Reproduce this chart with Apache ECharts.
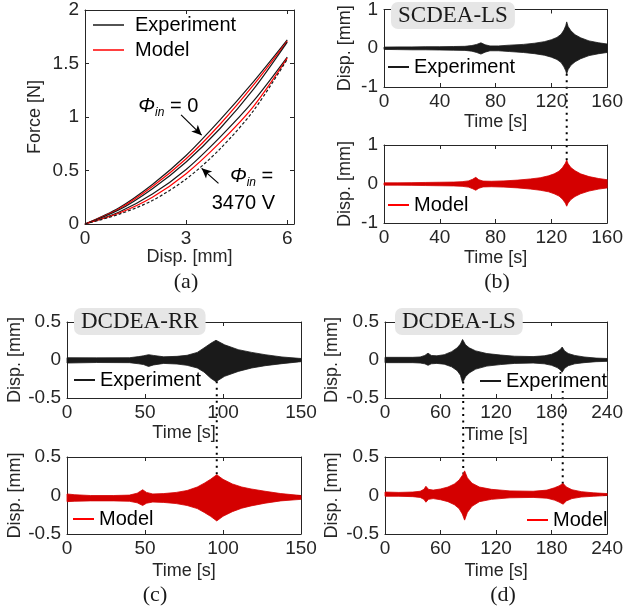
<!DOCTYPE html>
<html>
<head>
<meta charset="utf-8">
<title>DEA force / displacement</title>
<script src="https://cdn.jsdelivr.net/npm/echarts@6.0.0/dist/echarts.min.js"></script>
<style>
html,body{margin:0;padding:0;background:#fff;}
#chart{width:626px;height:615px;}
</style>
</head>
<body>
<div id="chart"></div>
<script>
// (a) force vs displacement
var dispA = [0, 1, 2, 3, 4, 5, 6];
var exp0Load      = [0, 0.15, 0.37, 0.64, 0.97, 1.33, 1.72];
var mod0          = [0, 0.14, 0.35, 0.61, 0.93, 1.30, 1.71];
var exp0Unload    = [0, 0.13, 0.33, 0.58, 0.89, 1.26, 1.70];
var exp3470Load   = [0, 0.11, 0.28, 0.51, 0.81, 1.15, 1.56];
var mod3470       = [0, 0.10, 0.25, 0.47, 0.76, 1.10, 1.55];
var exp3470Unload = [0, 0.09, 0.22, 0.42, 0.70, 1.06, 1.54];
var dispTicks  = [0, 3, 6];
var forceTicks = [0, 0.5, 1, 1.5, 2];

// (b) SCDEA-LS, envelopes of the oscillating displacement
var bExpTime  = [0, 10, 20, 30, 40, 50, 58, 63, 66.5, 69.5, 72.5, 76, 82, 90, 100, 108, 115, 120, 124, 127, 129, 130.3, 131, 132, 134, 137, 141, 147, 154, 160];
var bExpUpper = [0.03, 0.035, 0.035, 0.04, 0.04, 0.045, 0.05, 0.07, 0.10, 0.14, 0.09, 0.06, 0.06, 0.08, 0.10, 0.13, 0.17, 0.22, 0.28, 0.36, 0.47, 0.58, 0.68, 0.56, 0.45, 0.35, 0.27, 0.19, 0.14, 0.11];
var bExpLower = [-0.03, -0.035, -0.04, -0.04, -0.045, -0.05, -0.055, -0.075, -0.11, -0.15, -0.10, -0.065, -0.065, -0.085, -0.11, -0.14, -0.18, -0.23, -0.29, -0.37, -0.48, -0.58, -0.66, -0.55, -0.44, -0.35, -0.27, -0.19, -0.14, -0.11];
var bModTime  = [0, 10, 20, 30, 40, 50, 56, 60.5, 63.5, 65.8, 68, 71, 77, 86, 96, 105, 112, 118, 122, 125.5, 128, 130, 131, 132, 134, 137, 141, 147, 154, 160];
var bModUpper = [0.03, 0.03, 0.035, 0.04, 0.045, 0.05, 0.06, 0.08, 0.12, 0.17, 0.11, 0.075, 0.07, 0.08, 0.10, 0.13, 0.16, 0.21, 0.26, 0.33, 0.42, 0.53, 0.61, 0.52, 0.42, 0.34, 0.26, 0.19, 0.14, 0.11];
var bModLower = [-0.03, -0.03, -0.035, -0.04, -0.045, -0.05, -0.06, -0.08, -0.12, -0.16, -0.11, -0.075, -0.07, -0.08, -0.10, -0.13, -0.16, -0.20, -0.25, -0.31, -0.39, -0.49, -0.57, -0.49, -0.40, -0.32, -0.25, -0.18, -0.13, -0.10];
var bTimeTicks = [0, 40, 80, 120, 160];
var bDispTicks = [-1, 0, 1];
var bLinks = [131];

// (c) DCDEA-RR
var cExpTime  = [0, 19, 40, 46, 49, 52.3, 55.5, 62, 70.5, 77, 83.5, 87.8, 92.2, 95.5, 101, 109.8, 118.4, 127, 137.8, 148.5, 150];
var cExpUpper = [0.03, 0.028, 0.03, 0.045, 0.055, 0.07, 0.06, 0.042, 0.048, 0.062, 0.10, 0.158, 0.22, 0.26, 0.20, 0.136, 0.10, 0.07, 0.04, 0.022, 0.02];
var cExpLower = [-0.04, -0.033, -0.035, -0.05, -0.06, -0.085, -0.065, -0.045, -0.053, -0.07, -0.105, -0.158, -0.24, -0.285, -0.215, -0.15, -0.105, -0.075, -0.048, -0.025, -0.022];
var cModTime  = [0, 5, 15, 30, 40, 45, 48.5, 51, 55, 62, 70, 77, 83.5, 88, 92, 96, 100, 106, 112, 118, 127, 137, 150];
var cModUpper = [0.02, 0.01, 0.0, 0.0, 0.005, 0.03, 0.075, 0.04, 0.02, 0.025, 0.04, 0.065, 0.11, 0.16, 0.21, 0.27, 0.21, 0.15, 0.11, 0.085, 0.055, 0.025, 0.0];
var cModLower = [-0.08, -0.075, -0.07, -0.07, -0.075, -0.095, -0.13, -0.10, -0.085, -0.09, -0.105, -0.13, -0.17, -0.22, -0.27, -0.33, -0.27, -0.21, -0.165, -0.135, -0.10, -0.07, -0.05];
var cTimeTicks = [0, 50, 100, 150];
var cLinks = [96];

// (d) DCDEA-LS
var dExpTime  = [0, 15, 30, 38, 43, 46.5, 50, 56, 64, 72, 78, 81.5, 83.8, 87, 91, 98, 110, 125, 140, 160, 172, 180, 186, 189.5, 191.4, 194, 198, 205, 215, 228, 240];
var dExpUpper = [0.035, 0.035, 0.035, 0.04, 0.06, 0.09, 0.06, 0.055, 0.07, 0.11, 0.16, 0.21, 0.27, 0.20, 0.16, 0.12, 0.085, 0.065, 0.05, 0.045, 0.055, 0.075, 0.11, 0.14, 0.17, 0.12, 0.085, 0.06, 0.04, 0.025, 0.02];
var dExpLower = [-0.035, -0.035, -0.035, -0.04, -0.05, -0.07, -0.05, -0.045, -0.055, -0.09, -0.14, -0.20, -0.30, -0.22, -0.17, -0.12, -0.08, -0.06, -0.045, -0.04, -0.05, -0.07, -0.10, -0.13, -0.16, -0.11, -0.075, -0.05, -0.035, -0.022, -0.018];
var dModTime  = [0, 15, 30, 38, 42, 44.2, 47, 52, 60, 68, 75, 80, 83.5, 86, 89, 94, 102, 115, 135, 160, 175, 183, 188, 192.4, 196, 202, 212, 225, 240];
var dModUpper = [0.045, 0.04, 0.045, 0.055, 0.08, 0.12, 0.08, 0.07, 0.085, 0.11, 0.15, 0.20, 0.26, 0.32, 0.23, 0.16, 0.11, 0.08, 0.06, 0.055, 0.07, 0.10, 0.125, 0.157, 0.11, 0.075, 0.05, 0.035, 0.025];
var dModLower = [-0.01, -0.01, -0.015, -0.025, -0.05, -0.087, -0.05, -0.04, -0.055, -0.08, -0.12, -0.17, -0.24, -0.32, -0.22, -0.14, -0.08, -0.05, -0.03, -0.025, -0.035, -0.06, -0.085, -0.113, -0.07, -0.04, -0.02, -0.01, 0.0];
var dTimeTicks = [0, 60, 120, 180, 240];
var halfTicks  = [-0.5, 0, 0.5];
var dLinks = [84.5, 192];

var AX = '#262626';
var FONT = 'Liberation Sans, Arial, sans-serif';
var BLACK = '#1a1a1a', RED_LINE = '#ff0000', RED_FILL = '#d40000';

var grids = [
    {left: 85,  top: 10,  width: 209, height: 214},
    {left: 384, top: 9,   width: 233, height: 78},
    {left: 384, top: 145, width: 233, height: 78},
    {left: 67,  top: 322, width: 234, height: 76},
    {left: 67,  top: 457, width: 234, height: 77},
    {left: 385, top: 322, width: 233, height: 76},
    {left: 385, top: 457, width: 233, height: 77}
];
var axisDefs = [
    {x: [0, 6.2, dispTicks],  y: [0, 2, forceTicks],   xName: 'Disp. [mm]', yName: 'Force [N]',  xGap: 24, yGap: 41},
    {x: [0, 160, bTimeTicks], y: [-1, 1, bDispTicks],  xName: 'Time [s]',   yName: 'Disp. [mm]', xGap: 26, yGap: 30},
    {x: [0, 160, bTimeTicks], y: [-1, 1, bDispTicks],  xName: 'Time [s]',   yName: 'Disp. [mm]', xGap: 26, yGap: 30},
    {x: [0, 150, cTimeTicks], y: [-0.5, 0.5, halfTicks], xName: 'Time [s]', yName: 'Disp. [mm]', xGap: 26, yGap: 43},
    {x: [0, 150, cTimeTicks], y: [-0.5, 0.5, halfTicks], xName: 'Time [s]', yName: 'Disp. [mm]', xGap: 28, yGap: 43},
    {x: [0, 240, dTimeTicks], y: [-0.5, 0.5, halfTicks], xName: 'Time [s]', yName: 'Disp. [mm]', xGap: 28, yGap: 44},
    {x: [0, 240, dTimeTicks], y: [-0.5, 0.5, halfTicks], xName: 'Time [s]', yName: 'Disp. [mm]', xGap: 28, yGap: 44}
];

function makeAxis(dim, g, d, mirror){
    var r = d[dim];
    var isX = dim === 'x';
    return {
        type: 'value', gridIndex: g,
        position: isX ? (mirror ? 'top' : 'bottom') : (mirror ? 'right' : 'left'),
        min: r[0], max: r[1],
        axisLine: {show: true, onZero: false, lineStyle: {color: AX, width: 1}},
        axisTick: {show: true, inside: true, length: 4, customValues: r[2], lineStyle: {color: AX, width: 1}},
        axisLabel: {show: !mirror, customValues: r[2], margin: isX ? 5 : 6, color: AX, fontSize: 19, fontFamily: FONT},
        splitLine: {show: false},
        name: mirror ? '' : (isX ? d.xName : d.yName),
        nameLocation: 'middle',
        nameGap: isX ? d.xGap : d.yGap,
        nameMoveOverlap: false,
        nameTextStyle: {color: AX, fontSize: 18, fontFamily: FONT}
    };
}

var xAxes = [], yAxes = [];
axisDefs.forEach(function(d, g){
    xAxes.push(makeAxis('x', g, d, false), makeAxis('x', g, d, true));
    yAxes.push(makeAxis('y', g, d, false), makeAxis('y', g, d, true));
});

function pairs(xs, ys){
    return xs.map(function(x, i){ return [x, ys[i]]; });
}

function curve(name, ys, color, dashed){
    return {
        type: 'line', name: name, xAxisIndex: 0, yAxisIndex: 0,
        data: pairs(dispA, ys), smooth: 0.3, symbol: 'none',
        itemStyle: {color: color},
        lineStyle: {color: color, width: 1.2, type: dashed ? [3, 2] : 'solid'}
    };
}

// filled band between lower and upper envelope
function band(name, g, ts, up, lo, color){
    return {
        type: 'custom', name: name, coordinateSystem: 'cartesian2d',
        xAxisIndex: 2 * g, yAxisIndex: 2 * g, silent: true,
        itemStyle: {color: color},
        data: [[ts[0], 0]],
        renderItem: function(params, api){
            var pts = [];
            for (var i = 0; i < ts.length; i++) pts.push(api.coord([ts[i], up[i]]));
            for (var j = ts.length - 1; j >= 0; j--) pts.push(api.coord([ts[j], lo[j]]));
            return {type: 'polygon', shape: {points: pts}, style: {fill: color, stroke: color, lineWidth: 0.8}};
        }
    };
}

var series = [
    curve('Experiment', exp0Load, BLACK),
    curve('Model', mod0, RED_LINE),
    curve('Experiment', exp0Unload, BLACK),
    curve('Experiment', exp3470Load, BLACK),
    curve('Model', mod3470, RED_LINE),
    curve('Experiment', exp3470Unload, BLACK, true),
    band('Experiment', 1, bExpTime, bExpUpper, bExpLower, BLACK),
    band('Model', 2, bModTime, bModUpper, bModLower, RED_FILL),
    band('Experiment', 3, cExpTime, cExpUpper, cExpLower, BLACK),
    band('Model', 4, cModTime, cModUpper, cModLower, RED_FILL),
    band('Experiment', 5, dExpTime, dExpUpper, dExpLower, BLACK),
    band('Model', 6, dModTime, dModUpper, dModLower, RED_FILL)
];

// arrows pointing at the loops in (a)
series[0].markLine = {
    silent: true, animation: false,
    symbol: ['none', 'arrow'], symbolSize: [7, 10],
    lineStyle: {color: '#000', width: 1.2, type: 'solid'},
    label: {show: false},
    data: [
        [{coord: [2.85, 1.02]}, {coord: [3.46, 0.83]}],
        [{coord: [3.96, 0.38]}, {coord: [3.46, 0.52]}]
    ]
};

function legendAt(names, left, top, extra){
    var l = {
        data: names, left: left, top: top, padding: 0,
        icon: 'rect', itemWidth: 21, itemHeight: 2,
        selectedMode: false,
        textStyle: {fontSize: 20, color: '#000', fontFamily: FONT}
    };
    for (var k in extra) l[k] = extra[k];
    return l;
}

function boxTitle(text, left, top){
    return {
        text: text, left: left, top: top,
        backgroundColor: '#e6e6e6', borderRadius: 7, padding: [2, 7, 2, 7],
        textStyle: {fontFamily: 'Liberation Serif, Times New Roman, serif', fontSize: 23, fontWeight: 'normal', color: '#1a1a1a'}
    };
}

var option = {
    animation: false,
    backgroundColor: '#fff',
    textStyle: {fontFamily: FONT},
    title: [boxTitle('SCDEA-LS', 391, 2), boxTitle('DCDEA-RR', 74, 308), boxTitle('DCDEA-LS', 395, 308)],
    legend: [
        legendAt(['Experiment', 'Model'], 93, 15, {orient: 'vertical', itemWidth: 31, itemHeight: 1.5, itemGap: 5,
            textStyle: {fontSize: 20, color: '#000', fontFamily: FONT, padding: [0, 0, 0, 6]}}),
        legendAt(['Experiment'], 388, 57),
        legendAt(['Model'], 388, 195),
        legendAt(['Experiment'], 74, 370),
        legendAt(['Model'], 73, 509),
        legendAt(['Experiment'], 480, 371, {backgroundColor: '#fff', z: 1}),
        legendAt(['Model'], 527, 510)
    ],
    grid: grids,
    xAxis: xAxes,
    yAxis: yAxes,
    series: series
};

var chart = echarts.init(document.getElementById('chart'));
chart.setOption(option);

function envAt(t, ts, vs){
    for (var i = 1; i < ts.length; i++) {
        if (t <= ts[i]) {
            var f = (t - ts[i - 1]) / (ts[i] - ts[i - 1]);
            return vs[i - 1] + f * (vs[i] - vs[i - 1]);
        }
    }
    return vs[vs.length - 1];
}

function px(g, x, y){
    return chart.convertToPixel({xAxisIndex: 2 * g, yAxisIndex: 2 * g}, [x, y]);
}

var graphics = [];
// dotted lines joining experiment and model peaks
function links(times, gTop, tTop, loTop, gBot, tBot, upBot){
    times.forEach(function(t){
        var a = px(gTop, t, envAt(t, tTop, loTop));
        var b = px(gBot, t, envAt(t, tBot, upBot));
        graphics.push({type: 'line', z: 0, silent: true,
            shape: {x1: a[0], y1: a[1], x2: b[0], y2: b[1]},
            style: {stroke: '#000', lineWidth: 2, lineDash: [2, 4.5]}});
    });
}
links(bLinks, 1, bExpTime, bExpLower, 2, bModTime, bModUpper);
links(cLinks, 3, cExpTime, cExpLower, 4, cModTime, cModUpper);
links(dLinks, 5, dExpTime, dExpLower, 6, dModTime, dModUpper);

var rich = {
    p: {fontStyle: 'italic', fontSize: 20, fontFamily: FONT, lineHeight: 24, fill: '#000'},
    s: {fontStyle: 'italic', fontSize: 12, fontFamily: FONT, lineHeight: 12, verticalAlign: 'bottom', fill: '#000'},
    n: {fontSize: 20, fontFamily: FONT, lineHeight: 24, fill: '#000'}
};
function phiText(text, x, y){
    var p = px(0, x, y);
    graphics.push({type: 'text', z: 10, silent: true,
        style: {text: text, rich: rich, x: p[0], y: p[1], align: 'left', verticalAlign: 'middle', fill: '#000'}});
}
phiText('{p|Φ}{s|in}{n| = 0}', 1.58, 1.10);
phiText('{p|Φ}{s|in}{n| =}', 4.30, 0.44);
phiText('{n|3470 V}', 3.76, 0.19);

// panel letters
[['(a)', 186, 282], ['(b)', 497, 282], ['(c)', 155, 595], ['(d)', 503, 595]].forEach(function(l){
    graphics.push({type: 'text', z: 10, silent: true,
        style: {text: l[0], x: l[1], y: l[2], align: 'center', verticalAlign: 'middle',
            font: '22px Liberation Serif, Times New Roman, serif', fill: '#1a1a1a'}});
});

chart.setOption({graphic: graphics});
</script>
</body>
</html>
